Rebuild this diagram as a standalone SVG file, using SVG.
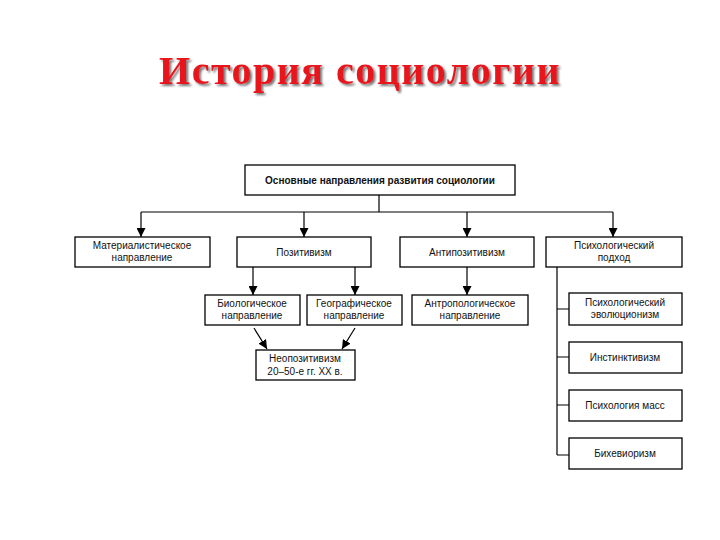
<svg xmlns="http://www.w3.org/2000/svg" width="720" height="540" viewBox="0 0 720 540">
<defs>
<marker id="a" viewBox="0 0 10 10" refX="10" refY="5" markerWidth="9" markerHeight="9" orient="auto" markerUnits="userSpaceOnUse"><path d="M0,0L10,5L0,10z" fill="#000"/></marker>
<filter id="sh" x="-5%" y="-20%" width="110%" height="140%"><feDropShadow dx="2" dy="2" stdDeviation="0.8" flood-color="#555" flood-opacity="0.8"/></filter>
<style>
rect{fill:#fff;stroke:#000;stroke-width:1.3}
.n text{font-family:"Liberation Sans",Arial,sans-serif;font-size:10px;text-anchor:middle;fill:#111}
.c path{fill:none;stroke:#000;stroke-width:1.2}
.c .ar{marker-end:url(#a)}
</style>
</defs>
<rect x="0" y="0" width="720" height="540" style="fill:#fff;stroke:none"/>
<text x="360" y="84" font-family="Liberation Serif,serif" font-size="40" font-weight="bold" letter-spacing="1.5" text-anchor="middle" fill="#e8141c" filter="url(#sh)">История социологии</text>
<g class="c">
<path d="M379,195V212M141,212H613"/>
<path class="ar" d="M141,212V237"/>
<path class="ar" d="M304,212V237"/>
<path class="ar" d="M467,212V237"/>
<path class="ar" d="M613,212V237"/>
<path class="ar" d="M253,267V295"/>
<path class="ar" d="M355,267V295"/>
<path class="ar" d="M467,267V295"/>
<path class="ar" d="M254,328L267,349"/>
<path class="ar" d="M355,328L342,349"/>
<path d="M557,267V455M557,309H569M557,357H569M557,405H569M557,455H569"/>
</g>
<g class="n" id="top"><rect x="245" y="165" width="270" height="30"/><text x="380" y="184" font-weight="bold">Основные направления развития социологии</text></g>
<g class="n" id="mat"><rect x="75" y="237" width="135" height="30"/><text x="142" y="249">Материалистическое</text><text x="142" y="261">направление</text></g>
<g class="n" id="poz"><rect x="237" y="237" width="134" height="30"/><text x="304" y="256">Позитивизм</text></g>
<g class="n" id="anti"><rect x="400" y="237" width="134" height="30"/><text x="467" y="256">Антипозитивизм</text></g>
<g class="n" id="psy"><rect x="546" y="237" width="136" height="30"/><text x="614" y="249">Психологический</text><text x="614" y="261">подход</text></g>
<g class="n" id="bio"><rect x="205" y="295" width="95" height="30"/><text x="252" y="307">Биологическое</text><text x="252" y="319">направление</text></g>
<g class="n" id="geo"><rect x="307" y="295" width="95" height="30"/><text x="354" y="307">Географическое</text><text x="354" y="319">направление</text></g>
<g class="n" id="antr"><rect x="412" y="295" width="116" height="30"/><text x="470" y="307">Антропологическое</text><text x="470" y="319">направление</text></g>
<g class="n" id="neo"><rect x="256" y="350" width="99" height="30"/><text x="305" y="362">Неопозитивизм</text><text x="305" y="375">20–50-е гг. XX в.</text></g>
<g class="n" id="evo"><rect x="569" y="293" width="113" height="32"/><text x="625" y="306">Психологический</text><text x="625" y="318">эволюционизм</text></g>
<g class="n" id="inst"><rect x="569" y="342" width="113" height="31"/><text x="625" y="361">Инстинктивизм</text></g>
<g class="n" id="mass"><rect x="569" y="390" width="113" height="31"/><text x="625" y="409">Психология масс</text></g>
<g class="n" id="beh"><rect x="569" y="438" width="113" height="31"/><text x="625" y="457">Бихевиоризм</text></g>
</svg>
